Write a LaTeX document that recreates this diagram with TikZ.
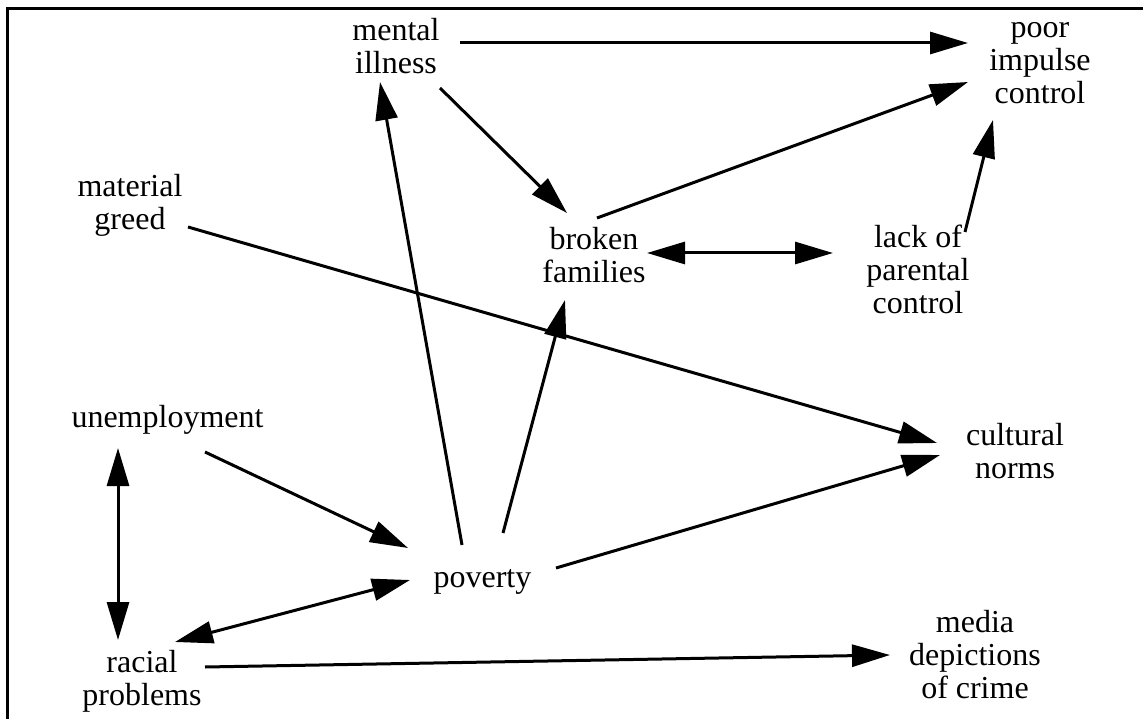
\documentclass[tikz,border=0pt]{standalone}
\usepackage{fontspec}
\setmainfont{Liberation Serif}
\usetikzlibrary{arrows.meta,calc}
\begin{document}
\begin{tikzpicture}[x=1pt,y=-1pt,
  lbl/.style={font=\fontsize{32}{33}\selectfont, align=center, inner sep=0pt},
  conn/.style={line width=3pt, -{Triangle[length=38pt,width=22pt]}},
  bi/.style={line width=3pt, {Triangle[length=38pt,width=22pt]}-{Triangle[length=38pt,width=22pt]}}]
\useasboundingbox (0,0) rectangle (1143,719);
\draw[line width=3.5pt, line join=miter] (7.5,719) -- (7.5,8.5) -- (1143,8.5);

\node[lbl] (mi)  at (396,46)    {mental\\illness};
\node[lbl] (pic) at (1040,63)   {poor\\impulse\\control};
\node[lbl] (mg)  at (130,205.5) {material\\greed};
\node[lbl] (bf)  at (594,255.5) {broken\\families};
\node[lbl] (lp)  at (918,269.5) {lack of\\parental\\control};
\node[lbl, anchor=base] (un)  at (167.5,427) {unemployment};
\node[lbl] (cn)  at (1015,451)  {cultural\\norms};
\node[lbl, anchor=base] (pov) at (482.5,587) {poverty};
\node[lbl] (rp)  at (142,681.5) {racial\\problems};
\node[lbl] (md)  at (975,654.5) {media\\depictions\\of crime};

\draw[conn] ($(mi)+(64,-3)$) -- ($(pic)+(-72,-20)$);
\draw[conn] ($(mi)+(44,42)$) -- ($(bf)+(-27,-42.5)$);
\draw[conn] ($(bf)+(3,-37.5)$) -- ($(pic)+(-72,19)$);
\draw[conn] ($(lp)+(47,-37.5)$) -- ($(pic)+(-47,57)$);
\draw[bi]   ($(bf)+(53,-2.5)$) -- ($(lp)+(-85,-16.5)$);
\draw[conn] ($(mg)+(58,21.5)$) -- ($(cn)+(-78,-8)$);
\draw[conn] ($(pov.base)+(-20.5,-42)$) -- ($(mi)+(-16,36)$);
\draw[conn] ($(pov.base)+(20.5,-54)$) -- ($(bf)+(-29,44.5)$);
\draw[conn] ($(pov.base)+(73.5,-19)$) -- ($(cn)+(-75,4)$);
\draw[conn] ($(un.base)+(37.5,25)$) -- ($(pov.base)+(-74.5,-39)$);
\draw[bi]   ($(un.base)+(-49.5,21)$) -- ($(rp)+(-24,-41.5)$);
\draw[bi]   ($(rp)+(33,-39.5)$) -- ($(pov.base)+(-72.5,-7)$);
\draw[conn] ($(rp)+(63,-14.5)$) -- ($(md)+(-85,0.5)$);
\end{tikzpicture}
\end{document}
